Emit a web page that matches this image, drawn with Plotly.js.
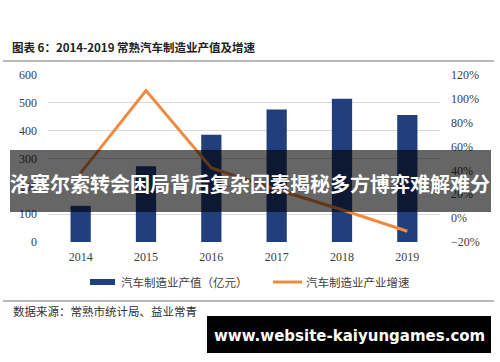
<!DOCTYPE html>
<html>
<head>
<meta charset="utf-8">
<script src="https://cdn.plot.ly/plotly-3.0.1.min.js"></script>
<style>html,body{margin:0;padding:0;background:#fff;}#chart{width:500px;height:362px;}</style>
</head>
<body>
<div id="chart"></div>
<script>
// ---- data ----
const years = ['2014', '2015', '2016', '2017', '2018', '2019'];
const outputValue = [130, 272, 385, 476, 515, 456];          // 汽车制造业产值（亿元）
const growthRate = [0.38, 1.07, 0.42, 0.24, 0.07, -0.11];    // 汽车制造业产业增速
const seriesNames = ['汽车制造业产值（亿元）', '汽车制造业产业增速'];
const chartTitle = '图表 6：2014-2019 常熟汽车制造业产值及增速';
const sourceText = '数据来源：常熟市统计局、益业常青';
const bannerText = '洛塞尔索转会困局背后复杂因素揭秘多方博弈难解难分';
const watermarkText = 'www.website-kaiyungames.com';
const leftTicks = [0, 100, 200, 300, 400, 500, 600];
const rightTicks = [-0.2, 0, 0.2, 0.4, 0.6, 0.8, 1.0, 1.2];

// ---- layout helpers ----
const W = 500, H = 362, L = 48, R = 60, T = 75, B = 120;
const px = x => (x - L) / (W - L - R);
const py = y => (H - B - y) / (H - T - B);
const barColor = '#223F7D', lineColor = '#F08A3F';
const serif = "'Liberation Serif', 'DejaVu Serif', serif";
const cjk = "'Noto Sans CJK SC', sans-serif";

const traces = [
  { type: 'bar', x: years, y: outputValue, name: seriesNames[0], width: 0.31,
    marker: { color: barColor }, showlegend: false, hoverinfo: 'x+y' },
  { type: 'scatter', mode: 'lines', x: years, y: growthRate, name: seriesNames[1], yaxis: 'y2',
    line: { color: lineColor, width: 3 }, showlegend: false }
];

const layout = {
  width: W, height: H,
  margin: { l: L, r: R, t: T, b: B, pad: 0 },
  paper_bgcolor: '#fff', plot_bgcolor: '#fff',
  title: { text: '<b>' + chartTitle + '</b>', x: 12 / W, xanchor: 'left', xref: 'container',
           y: 1 - 48 / H, yanchor: 'middle', yref: 'container',
           font: { family: cjk, size: 11.5, color: '#222' } },
  xaxis: { type: 'category', showgrid: false, zeroline: false, showline: false, ticks: '',
           tickfont: { family: serif, size: 12, color: '#404040' }, ticklabelstandoff: 6,
           fixedrange: true },
  yaxis: { range: [0, 600], tickvals: leftTicks, showgrid: true, gridcolor: '#d9d9d9', gridwidth: 1,
           zeroline: false, showline: false, ticks: '', ticklabelstandoff: 10,
           tickfont: { family: serif, size: 12, color: '#404040' }, fixedrange: true },
  yaxis2: { range: [-0.2, 1.2], tickvals: rightTicks, tickformat: '.0%', overlaying: 'y', side: 'right',
            showgrid: false, zeroline: false, showline: false, ticks: '', ticklabelstandoff: 10,
            tickfont: { family: serif, size: 12, color: '#404040' }, fixedrange: true },
  bargap: 0.69,
  shapes: [
    { type: 'line', xref: 'paper', yref: 'paper', x0: px(3), x1: px(494), y0: py(61), y1: py(61),
      line: { color: '#777', width: 1.2 } },
    { type: 'line', xref: 'paper', yref: 'paper', x0: px(3), x1: px(494), y0: py(301), y1: py(301),
      line: { color: '#777', width: 1.2 } },
    { type: 'rect', xref: 'paper', yref: 'paper', x0: px(90), x1: px(115), y0: py(279), y1: py(285),
      fillcolor: barColor, line: { width: 0 } },
    { type: 'line', xref: 'paper', yref: 'paper', x0: px(273), x1: px(302), y0: py(282), y1: py(282),
      line: { color: lineColor, width: 3 } },
    { type: 'rect', xref: 'paper', yref: 'paper', x0: px(10), x1: px(491), y0: py(150), y1: py(212),
      fillcolor: 'rgba(0,0,0,0.6)', line: { width: 0 }, layer: 'above' },
    { type: 'rect', xref: 'paper', yref: 'paper', x0: px(207), x1: px(491), y0: py(316), y1: py(353),
      fillcolor: '#000', line: { width: 0 }, layer: 'above' }
  ],
  annotations: [
    { text: seriesNames[0], xref: 'paper', yref: 'paper', x: px(119), y: py(282), xanchor: 'left',
      yanchor: 'middle', showarrow: false, font: { family: cjk, size: 11.5, color: '#404040' } },
    { text: seriesNames[1], xref: 'paper', yref: 'paper', x: px(304), y: py(282), xanchor: 'left',
      yanchor: 'middle', showarrow: false, font: { family: cjk, size: 11.5, color: '#404040' } },
    { text: sourceText, xref: 'paper', yref: 'paper', x: px(11), y: py(311), xanchor: 'left',
      yanchor: 'middle', showarrow: false, font: { family: cjk, size: 11.5, color: '#333' } },
    { text: '<b>' + bannerText + '</b>', xref: 'paper', yref: 'paper', x: px(250), y: py(183),
      xanchor: 'center', yanchor: 'middle', showarrow: false,
      font: { family: cjk, size: 20, color: '#fff' } },
    { text: '<b>' + watermarkText + '</b>', xref: 'paper', yref: 'paper', x: px(349), y: py(336),
      xanchor: 'center', yanchor: 'middle', showarrow: false,
      font: { family: "'DejaVu Sans', sans-serif", size: 15, color: '#fff' } }
  ]
};

Plotly.newPlot('chart', traces, layout, { displayModeBar: false, staticPlot: true });
</script>
</body>
</html>
